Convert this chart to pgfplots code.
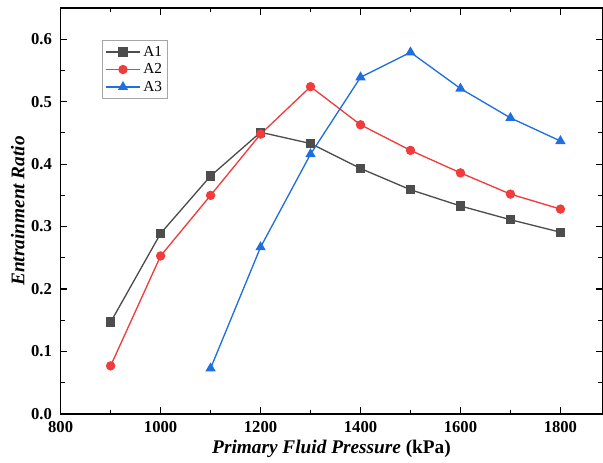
\documentclass[border=0pt]{standalone}
\usepackage{fontspec}
\setmainfont{Liberation Serif}
\usepackage{pgfplots}
\pgfplotsset{compat=1.18}
\definecolor{cAone}{HTML}{4D4D4D}
\definecolor{cAtwo}{HTML}{F03C3C}
\definecolor{cAthree}{HTML}{1F6FE0}
\begin{document}
\begin{tikzpicture}
\begin{axis}[
  scale only axis, width=407pt, height=305pt,
  xmin=800, xmax=1884, ymin=0, ymax=0.65,
  xtick={800,1000,...,1800}, ytick={0,0.1,...,0.6},
  minor xtick={900,1100,...,1900}, minor ytick={0.05,0.15,...,0.65},
  tick align=inside, major tick length=5pt, minor tick length=3pt,
  tick style={black, line width=0.9pt},
  axis line style={line width=0.9pt},
  tick label style={font=\bfseries\fontsize{12.5}{14}\selectfont},
  /pgf/number format/assume math mode=true,
  yticklabel style={xshift=-3pt, /pgf/number format/.cd, fixed, fixed zerofill, precision=1},
  xticklabel style={yshift=-2pt, /pgf/number format/.cd, set thousands separator={}},
  xlabel={\textbf{\textit{Primary Fluid Pressure} (kPa)}},
  ylabel={\textbf{\textit{Entrainment Ratio}}},
  label style={font=\fontsize{14.5}{16}\selectfont},
  xlabel style={yshift=1pt},
  ylabel style={yshift=-2pt},
  legend style={at={(0.077,0.92)}, anchor=north west, draw=gray!70, font=\fontsize{11.5}{13}\selectfont, row sep=0pt, inner sep=2pt},
  legend image code/.code={\draw[#1] (0cm,0cm) -- (0.45cm,0cm) plot coordinates {(0.45cm,0cm)} -- (0.9cm,0cm);},
  legend cell align=left,
  every axis plot/.append style={line width=1pt, mark size=3pt},
  after end axis/.code={\path (rel axis cs:0,1) ++(0,6pt);},
]
\addplot[cAone, mark=square*] coordinates {(900,0.147) (1000,0.289) (1100,0.381) (1200,0.451) (1300,0.433) (1400,0.393) (1500,0.359) (1600,0.333) (1700,0.311) (1800,0.291)};
\addplot[cAtwo, mark=*] coordinates {(900,0.077) (1000,0.253) (1100,0.350) (1200,0.448) (1300,0.524) (1400,0.463) (1500,0.422) (1600,0.386) (1700,0.352) (1800,0.328)};
\addplot[cAthree, mark=triangle*, mark size=3.5pt] coordinates {(1100,0.073) (1200,0.267) (1300,0.416) (1400,0.539) (1500,0.579) (1600,0.521) (1700,0.474) (1800,0.437)};
\legend{A1,A2,A3}
\end{axis}
\path ([xshift=-5pt]current axis.outer west);
\end{tikzpicture}
\end{document}
